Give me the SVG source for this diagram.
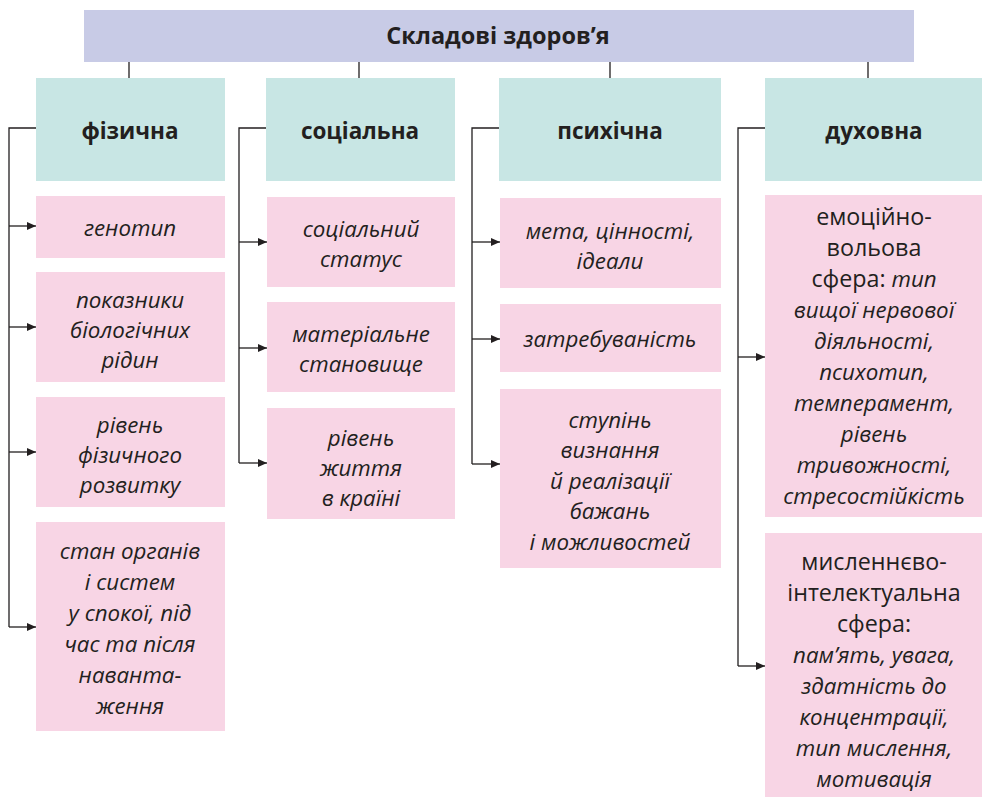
<svg xmlns="http://www.w3.org/2000/svg" width="982" height="797" viewBox="0 0 982 797">
<defs>
<marker id="ah" markerWidth="9" markerHeight="8" refX="9" refY="4" orient="auto" markerUnits="userSpaceOnUse">
<path d="M0,0 L9,4 L0,8 Z" fill="#231f20"/>
</marker>
<style>
.top{fill:#c8cbe6}
.cat{fill:#c8e6e4}
.leaf{fill:#f8d5e5}
text{font-family:"Open Sans","Noto Sans","DejaVu Sans",sans-serif;fill:#231f20;text-anchor:middle}
.h{font-size:22.5px;font-weight:bold}
.ttl{font-size:23.5px}
.t{font-size:22.3px;font-style:italic}
.r{font-style:normal;font-size:23.3px}
.ln{fill:none;stroke:#231f20;stroke-width:1.3}
.ar{fill:none;stroke:#231f20;stroke-width:1.3;marker-end:url(#ah)}
</style>
</defs>
<rect width="982" height="797" fill="#fff"/>

<g id="connectors">
<path class="ln" d="M129,62V78M359,62V78M610,62V78M868,62V78"/>
<path class="ln" d="M36,128H9V627"/>
<path class="ar" d="M9,226H36"/>
<path class="ar" d="M9,327H36"/>
<path class="ar" d="M9,452H36"/>
<path class="ar" d="M9,627H36"/>
<path class="ln" d="M266,128H239V463"/>
<path class="ar" d="M239,242H267"/>
<path class="ar" d="M239,348H267"/>
<path class="ar" d="M239,463H267"/>
<path class="ln" d="M499,128H472V464"/>
<path class="ar" d="M472,242H500"/>
<path class="ar" d="M472,339H500"/>
<path class="ar" d="M472,464H500"/>
<path class="ln" d="M765,128H738V666"/>
<path class="ar" d="M738,357H765"/>
<path class="ar" d="M738,666H765"/>
</g>

<g id="root">
<rect class="top" x="84" y="10" width="830" height="52"/>
<text class="h ttl" x="498" y="44">Складові здоров’я</text>
</g>

<g id="cat-fizychna">
<rect class="cat" x="36" y="78" width="189" height="103"/>
<text class="h" x="130" y="139">фізична</text>
</g>
<g id="cat-sotsialna">
<rect class="cat" x="266" y="78" width="189" height="103"/>
<text class="h" x="360" y="139">соціальна</text>
</g>
<g id="cat-psykhichna">
<rect class="cat" x="499" y="78" width="222" height="103"/>
<text class="h" x="610" y="139">психічна</text>
</g>
<g id="cat-dukhovna">
<rect class="cat" x="765" y="78" width="217" height="103"/>
<text class="h" x="874" y="139">духовна</text>
</g>

<g id="f1">
<rect class="leaf" x="36" y="196" width="189" height="62"/>
<text class="t" x="130" y="236">генотип</text>
</g>
<g id="f2">
<rect class="leaf" x="36" y="272" width="189" height="110"/>
<text class="t" x="130" y="308">показники</text>
<text class="t" x="130" y="338">біологічних</text>
<text class="t" x="130" y="368">рідин</text>
</g>
<g id="f3">
<rect class="leaf" x="36" y="397" width="189" height="110"/>
<text class="t" x="130" y="433">рівень</text>
<text class="t" x="130" y="463">фізичного</text>
<text class="t" x="130" y="493">розвитку</text>
</g>
<g id="f4">
<rect class="leaf" x="36" y="522" width="189" height="209"/>
<text class="t" x="130" y="559">стан органів</text>
<text class="t" x="130" y="590">і систем</text>
<text class="t" x="130" y="621">у спокої, під</text>
<text class="t" x="130" y="652">час та після</text>
<text class="t" x="130" y="683">наванта-</text>
<text class="t" x="130" y="714">ження</text>
</g>

<g id="s1">
<rect class="leaf" x="267" y="197" width="188" height="90"/>
<text class="t" x="361" y="237">соціальний</text>
<text class="t" x="361" y="267">статус</text>
</g>
<g id="s2">
<rect class="leaf" x="267" y="302" width="188" height="90"/>
<text class="t" x="361" y="342">матеріальне</text>
<text class="t" x="361" y="372">становище</text>
</g>
<g id="s3">
<rect class="leaf" x="267" y="408" width="188" height="111"/>
<text class="t" x="361" y="446">рівень</text>
<text class="t" x="361" y="476">життя</text>
<text class="t" x="361" y="506">в країні</text>
</g>

<g id="p1">
<rect class="leaf" x="500" y="198" width="221" height="90"/>
<text class="t" x="610" y="239">мета, цінності,</text>
<text class="t" x="610" y="269">ідеали</text>
</g>
<g id="p2">
<rect class="leaf" x="500" y="304" width="221" height="68"/>
<text class="t" x="610" y="347">затребуваність</text>
</g>
<g id="p3">
<rect class="leaf" x="500" y="389" width="221" height="179"/>
<text class="t" x="610" y="428">ступінь</text>
<text class="t" x="610" y="458">визнання</text>
<text class="t" x="610" y="489">й реалізації</text>
<text class="t" x="610" y="519">бажань</text>
<text class="t" x="610" y="550">і можливостей</text>
</g>

<g id="d1">
<rect class="leaf" x="765" y="195" width="217" height="322"/>
<text class="t r" x="874" y="225">емоційно-</text>
<text class="t r" x="874" y="256">вольова</text>
<text class="t" x="874" y="287"><tspan class="r">сфера:</tspan> тип</text>
<text class="t" x="874" y="318">вищої нервової</text>
<text class="t" x="874" y="349">діяльності,</text>
<text class="t" x="874" y="380">психотип,</text>
<text class="t" x="874" y="411">темперамент,</text>
<text class="t" x="874" y="442">рівень</text>
<text class="t" x="874" y="473">тривожності,</text>
<text class="t" x="874" y="504">стресостійкість</text>
</g>
<g id="d2">
<rect class="leaf" x="765" y="533" width="217" height="264"/>
<text class="t r" x="874" y="570">мисленнєво-</text>
<text class="t r" x="874" y="601">інтелектуальна</text>
<text class="t r" x="874" y="632">сфера:</text>
<text class="t" x="874" y="663">пам’ять, увага,</text>
<text class="t" x="874" y="694">здатність до</text>
<text class="t" x="874" y="725">концентрації,</text>
<text class="t" x="874" y="756">тип мислення,</text>
<text class="t" x="874" y="787">мотивація</text>
</g>
</svg>
